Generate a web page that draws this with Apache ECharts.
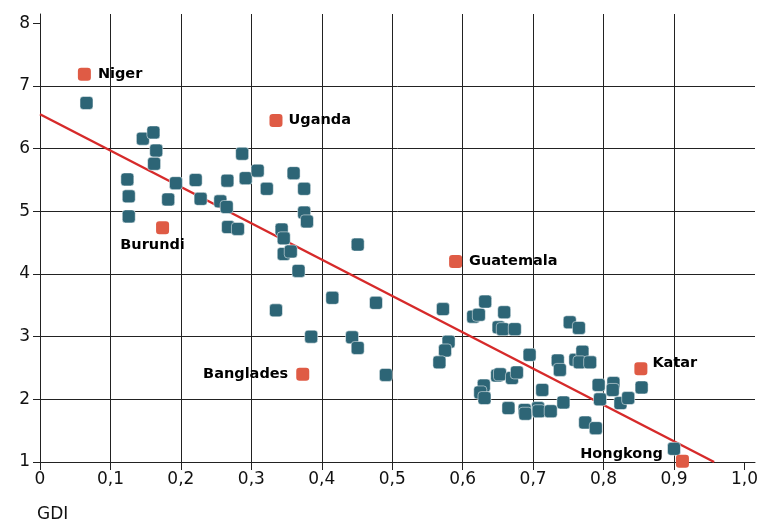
<!DOCTYPE html>
<html>
<head>
<meta charset="utf-8">
<script src="https://cdn.jsdelivr.net/npm/echarts@6/dist/echarts.min.js"></script>
<style>html,body{margin:0;padding:0;background:#fff;}#chart{width:759px;height:522px;}</style>
</head>
<body>
<div id="chart"></div>
<script>
// Teal points: GDI and y-values
const gdi = [0.066,0.124,0.126,0.126,0.146,0.161,0.165,0.162,0.193,0.182,0.221,0.228,0.256,0.265,0.266,0.267,0.281,0.287,0.292,0.309,0.322,0.335,0.343,0.346,0.346,0.356,0.360,0.375,0.375,0.379,0.367,0.385,0.415,0.443,0.451,0.451,0.477,0.491,0.572,0.580,0.575,0.567,0.615,0.623,0.632,0.659,0.651,0.657,0.674,0.695,0.649,0.653,0.670,0.677,0.630,0.625,0.631,0.665,0.688,0.689,0.707,0.708,0.713,0.725,0.743,0.735,0.738,0.752,0.765,0.760,0.770,0.766,0.781,0.774,0.789,0.793,0.795,0.814,0.813,0.824,0.835,0.854,0.900];
const score = [6.73,5.51,5.24,4.92,6.16,6.26,5.97,5.76,5.45,5.19,5.50,5.20,5.16,5.07,5.49,4.75,4.72,5.92,5.53,5.65,5.36,3.42,4.71,4.57,4.32,4.36,5.61,5.36,4.98,4.84,4.05,3.00,3.62,2.99,2.82,4.47,3.54,2.39,3.44,2.92,2.78,2.59,3.32,3.35,3.56,3.39,3.15,3.12,3.12,2.71,2.38,2.40,2.34,2.43,2.22,2.11,2.02,1.86,1.83,1.77,1.86,1.81,2.15,1.81,1.95,2.62,2.47,3.23,3.14,2.63,2.76,2.59,2.59,1.63,1.54,2.23,2.00,2.26,2.15,1.94,2.02,2.19,1.21];
// Highlighted countries
const hlNames = ['Niger','Uganda','Burundi','Guatemala','Banglades','Katar','Hongkong'];
const hlGdi = [0.063,0.335,0.174,0.590,0.373,0.853,0.912];
const hlScore = [7.19,6.45,4.74,4.20,2.40,2.49,1.01];
// Trend line endpoints
const trendGdi = [0, 0.957];
const trendScore = [6.55, 1.0];
// Axis ticks
const xTicks = [0,0.1,0.2,0.3,0.4,0.5,0.6,0.7,0.8,0.9,1.0];
const yTicks = [1,2,3,4,5,6,7,8];
const xName = 'GDI';

const labelStyle = {
  'Niger': {position:'right', distance:7, offset:[0,0]},
  'Uganda': {position:'right', distance:6, offset:[0,0]},
  'Burundi': {position:'bottom', distance:4, offset:[-10,0]},
  'Guatemala': {position:'right', distance:7, offset:[0,0]},
  'Banglades': {position:'left', distance:8, offset:[0,0]},
  'Katar': {position:'right', distance:5, offset:[0,-5]},
  'Hongkong': {position:'left', distance:13, offset:[0,-7]}
};

const fmt = v => (v === 0 ? '0' : v.toFixed(1).replace('.', ','));
const font = '"DejaVu Sans", sans-serif';
const gridCol = '#222';
const chart = echarts.init(document.getElementById('chart'), null, {renderer:'canvas'});
chart.setOption({
  animation: false,
  backgroundColor: '#ffffff',
  title: {text: xName, left: 32, top: 501, textStyle:{fontFamily:font, fontSize:17, fontWeight:'normal', color:'#111'}},
  grid: {left: 40, right: 4, top: 14, bottom: 60, outerBoundsMode: 'none', containLabel:false},
  xAxis: {
    type: 'value', min: 0, max: 1.015, interval: 0.1,
    axisLine: {show: true, onZero:false, lineStyle:{color:gridCol, width:1}},
    axisTick: {show: true, customValues: xTicks, length: 8, inside:false, lineStyle:{color:gridCol}},
    axisLabel: {customValues: xTicks, formatter: fmt, margin: 9, fontFamily: font, fontSize: 17, color: '#111'},
    splitLine: {show: true, showMinLine: true, showMaxLine: false, lineStyle:{color: gridCol, width:1}}
  },
  yAxis: {
    type: 'value', min: 1, max: 8.15, interval: 1,
    axisLine: {show: true, onZero:false, lineStyle:{color:gridCol, width:1}},
    axisTick: {show: true, customValues: yTicks, length: 7, lineStyle:{color:gridCol}},
    axisLabel: {customValues: yTicks, margin: 10, fontFamily: font, fontSize: 17, color: '#111'},
    splitLine: {show: true, showMinLine: true, showMaxLine: false, lineStyle:{color: gridCol, width:1}}
  },
  series: [
    {
      type: 'line', data: trendGdi.map((x,i)=>[x, trendScore[i]]),
      symbol: 'none', lineStyle:{color:'#d62a2a', width:2.5}, z: 3, silent:true
    },
    {
      type: 'scatter', data: gdi.map((x,i)=>[x, score[i]]),
      symbol: 'roundRect', symbolSize: 13,
      itemStyle: {color:'#2d6576', opacity:1, borderColor:'rgba(255,255,255,0.5)', borderWidth:1},
      z: 4
    },
    {
      type: 'scatter',
      data: hlNames.map((n,i)=>({name:n, value:[hlGdi[i], hlScore[i]], label:{show:true, position:labelStyle[n].position, distance:labelStyle[n].distance, offset:labelStyle[n].offset}})),
      symbol: 'roundRect', symbolSize: 13,
      itemStyle: {color:'#df5b45', opacity:1},
      label: {show:true, formatter: p => p.name, fontFamily: font, fontWeight:'bold', fontSize: 14.5, color:'#000'},
      z: 5
    }
  ]
});
</script>
</body>
</html>
